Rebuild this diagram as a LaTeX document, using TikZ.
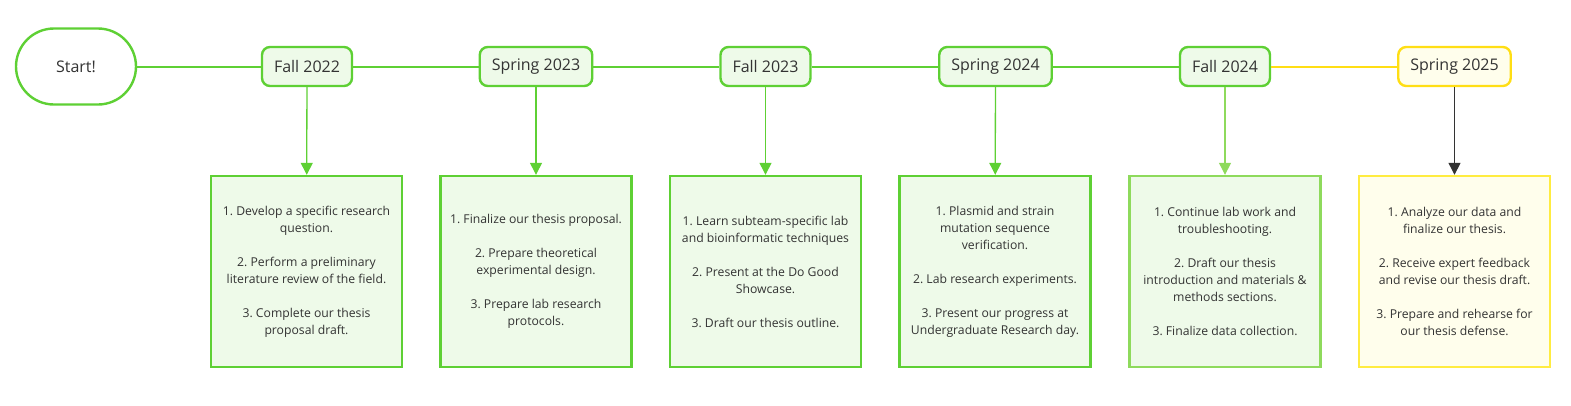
\documentclass[tikz,border=0pt]{standalone}
\usepackage{fontspec}
\setmainfont{Open Sans}
\usetikzlibrary{arrows.meta}
\frenchspacing

\definecolor{leaf}{RGB}{94,208,52}
\definecolor{leaffill}{RGB}{238,250,233}
\definecolor{paleleaf}{RGB}{142,218,92}
\definecolor{sun}{RGB}{255,222,20}
\definecolor{palesun}{RGB}{255,236,64}
\definecolor{sunfill}{RGB}{255,254,236}
\definecolor{ink}{RGB}{51,51,51}

\tikzstyle{term} = [draw=leaf, fill=leaffill, line width=2.4pt, rounded corners=8pt, minimum height=39pt, inner xsep=12pt, text=ink, font=\fontsize{16}{19}\selectfont]
\tikzstyle{task} = [draw=leaf, fill=leaffill, line width=2.4pt, minimum width=191pt, minimum height=191pt, align=center, text=ink, font=\fontsize{12.2}{17}\selectfont]
\tikzstyle{link} = [draw=leaf, line width=2pt]
\tikzstyle{drop} = [draw=leaf, line width=1.3pt, -{Triangle[width=12pt,length=12pt]}]

\begin{document}
\begin{tikzpicture}[x=1pt, y=-1pt]
      \useasboundingbox (0,0) rectangle (1571,405);

      \node[draw=leaf, fill=white, line width=2.4pt, rounded corners=38pt, minimum width=120pt, minimum height=76pt, text=ink, font=\fontsize{16}{19}\selectfont] (start) at (76,66.5) {Start!};
      \node[term] (f22) at (307,66.5) {Fall 2022};
      \node[term] (s23) at (536,66.5) {Spring 2023};
      \node[term] (f23) at (765.5,66.5) {Fall 2023};
      \node[term] (s24) at (995.5,66.5) {Spring 2024};
      \node[term] (f24) at (1225,66.5) {Fall 2024};
      \node[term, draw=sun, fill=sunfill] (s25) at (1454.5,66.5) {Spring 2025};

      \node[task] (t1) at (306.5,271.5) {1. Develop a specific research\\question.\\[17pt]2. Perform a preliminary\\literature review of the field.\\[17pt]3. Complete our thesis\\proposal draft.};
      \node[task] (t2) at (536,271.5) {1. Finalize our thesis proposal.\\[17pt]2. Prepare theoretical\\experimental design.\\[17pt]3. Prepare lab research\\protocols.};
      \node[task] (t3) at (765.5,271.5) {1. Learn subteam-specific lab\\and bioinformatic techniques\\[17pt]2. Present at the Do Good\\Showcase.\\[17pt]3. Draft our thesis outline.};
      \node[task] (t4) at (995,271.5) {1. Plasmid and strain\\mutation sequence\\verification.\\[17pt]2. Lab research experiments.\\[17pt]3. Present our progress at\\Undergraduate Research day.};
      \node[task, draw=paleleaf] (t5) at (1225,271.5) {1. Continue lab work and\\troubleshooting.\\[17pt]2. Draft our thesis\\introduction and materials \&\\methods sections.\\[17pt]3. Finalize data collection.};
      \node[task, draw=palesun, fill=sunfill] (t6) at (1454.5,271.5) {1. Analyze our data and\\finalize our thesis.\\[17pt]2. Receive expert feedback\\and revise our thesis draft.\\[17pt]3. Prepare and rehearse for\\our thesis defense.};

      \draw[link] (start) -- (f22) -- (s23) -- (f23) -- (s24) -- (f24);
      \draw[link, draw=sun] (f24) -- (s25);

      \draw[drop] (f22) -- (t1);
      \draw[drop] (s23) -- (t2);
      \draw[drop] (f23) -- (t3);
      \draw[drop] (s24) -- (t4);
      \draw[drop, draw=paleleaf, fill=paleleaf] (f24) -- (t5);
      \draw[drop, draw=ink, fill=ink] (s25) -- (t6);
    \end{tikzpicture}
\end{document}
